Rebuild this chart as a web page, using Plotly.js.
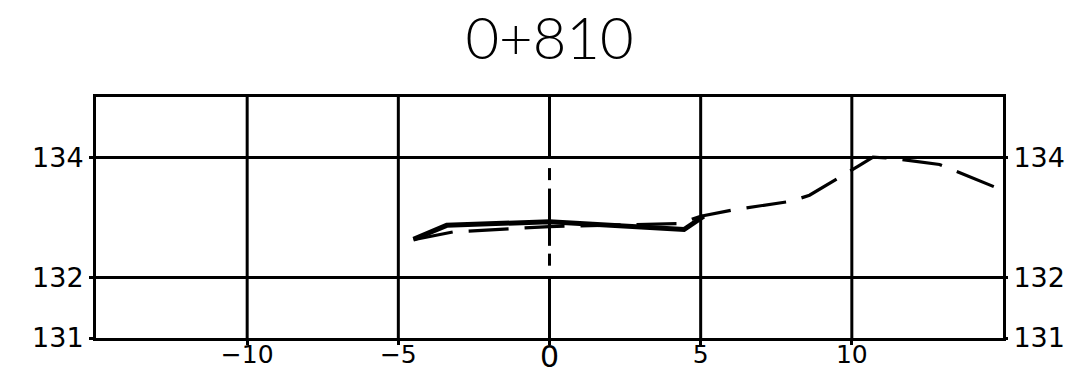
<!DOCTYPE html>
<html>
<head>
<meta charset="utf-8">
<script src="https://cdn.plot.ly/plotly-3.0.1.min.js"></script>
<style>html,body{margin:0;padding:0;background:#fff;}#chart{width:1083px;height:382px;}</style>
</head>
<body>
<div id="chart"></div>
<script>
// Section title
const sectionTitle = "0+810";

// Design profile (solid heavy line)
const designX = [-4.5, -3.4, 0, 4.45, 5.1];
const designY = [132.64, 132.87, 132.93, 132.8, 133.02];

// Existing ground profile (dashed line)
const groundX = [-4.5, -3.2, 0, 4.3, 5.0, 6.1, 8.0, 8.6, 10.2, 10.7, 11.4, 12.9, 13.2, 15.0];
const groundY = [132.63, 132.76, 132.85, 132.9, 133.02, 133.13, 133.27, 133.37, 133.85, 134.0, 133.98, 133.88, 133.82, 133.45];

// Axes
const xRange = [-15, 15];
const yRange = [131, 135];
const xTickVals = [-10, -5, 0, 5, 10];
const xTickText = ["−10", "−5", "", "5", "10"];
const xCentreLabel = "0";
const xGridVals = [-10, -5, 5, 10];
const yTickVals = [131, 132, 134];
const yTickText = ["131", "132", "134"];

// Centre line pieces (x = 0), [bottom, top] elevations
const centreX = 0;
const centreSegments = [[134, 135], [133.62, 133.82], [132.53, 133.48], [132.2, 132.4], [131, 132]];

const W = 3;
const shapes = [];
xGridVals.forEach(v => shapes.push({type:'line', xref:'x', yref:'paper', x0:v, x1:v, y0:0, y1:1, line:{color:'#000', width:W}, layer:'below'}));
centreSegments.forEach(s => shapes.push({type:'line', xref:'x', yref:'y', x0:centreX, x1:centreX, y0:s[0], y1:s[1], line:{color:'#000', width:W}, layer:'below'}));

const traces = [
  {x: groundX, y: groundY, mode:'lines', line:{color:'#000', width:3.2, dash:'40px,16px'}, hoverinfo:'skip', showlegend:false},
  {x: designX, y: designY, mode:'lines', line:{color:'#000', width:5}, hoverinfo:'skip', showlegend:false},
  {x: [xRange[0]], y: [yRange[0]], yaxis:'y2', mode:'markers', marker:{opacity:0}, hoverinfo:'skip', showlegend:false}
];

const tickFontY = {family:'DejaVu Sans, sans-serif', size:27, color:'#000'};
const tickFontX = {family:'DejaVu Sans, sans-serif', size:25, color:'#000'};

const layout = {
  width:1083, height:382,
  margin:{l:96, r:80, t:97, b:44},
  paper_bgcolor:'#fff', plot_bgcolor:'#fff',
  title:{text:sectionTitle, x:0.5074, xanchor:'center', y:0.9, yanchor:'middle', yref:'container',
         font:{family:'Lato, Noto Sans, sans-serif', size:58, color:'#000', weight:300}},
  xaxis:{range:xRange, tickvals:xTickVals, ticktext:xTickText, showgrid:false, zeroline:false,
         showline:true, linecolor:'#000', linewidth:W, mirror:true, ticklabelstandoff:-12,
         ticks:'outside', ticklen:4, tickwidth:W, tickcolor:'#000', tickfont:tickFontX, fixedrange:true},
  yaxis:{range:yRange, tickvals:yTickVals, ticktext:yTickText, showgrid:true, gridcolor:'#000', gridwidth:W, zeroline:false,
         showline:true, linecolor:'#000', linewidth:W, mirror:true,
         ticks:'outside', ticklen:4, tickwidth:W, tickcolor:'#000', tickfont:tickFontY, fixedrange:true},
  yaxis2:{range:yRange, tickvals:yTickVals, ticktext:yTickText, overlaying:'y', side:'right', showgrid:false, zeroline:false,
          showline:false, ticks:'outside', ticklen:4, tickwidth:W, tickcolor:'#000', tickfont:tickFontY, fixedrange:true},
  annotations:[{text:xCentreLabel, x:centreX, xref:'x', y:0, yref:'paper', yanchor:'top', yshift:1, showarrow:false,
                font:{family:'DejaVu Sans, sans-serif', size:30, color:'#000'}}],
  shapes: shapes
};

Plotly.newPlot('chart', traces, layout, {displayModeBar:false, staticPlot:true});
</script>
</body>
</html>
